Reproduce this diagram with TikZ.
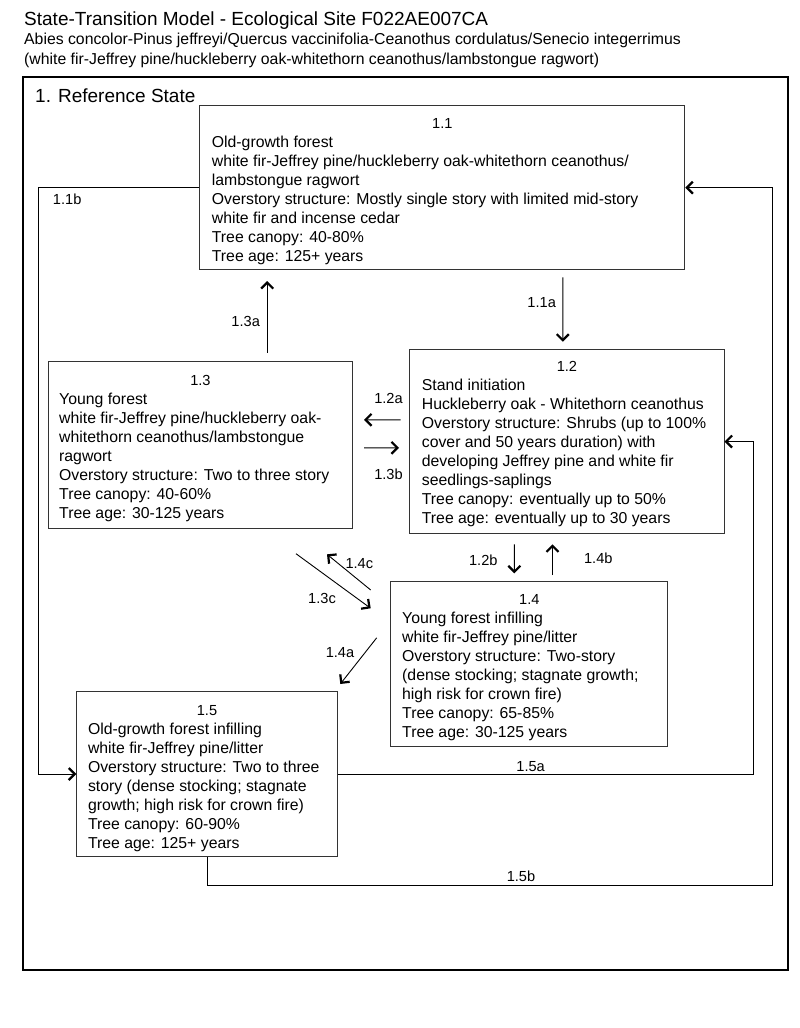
\documentclass[tikz,border=0pt]{standalone}
\usepackage{fontspec}
\setmainfont{Liberation Sans}
\usetikzlibrary{arrows.meta}

\begin{document}
\begin{tikzpicture}[x=1pt,y=-1pt,
    box/.style={draw=black!80,line width=1pt,anchor=north west,inner sep=0pt},
    num/.style={anchor=base,inner sep=0pt,font=\fontsize{14.6}{17}\selectfont},
    txt/.style={anchor=base west,inner sep=0pt,font=\fontsize{15.8}{19.1}\selectfont},
    lbl/.style={inner sep=0pt,font=\fontsize{14.6}{17}\selectfont},
    arr/.style={line width=0.9pt,-{Straight Barb[length=6pt,width=12pt,line width=2.2pt]}}]
    \useasboundingbox (0,0) rectangle (800,1028);
    \node[anchor=base west,inner sep=0pt,font=\fontsize{19}{22}\selectfont] (title) at (24,25) {State-Transition Model - Ecological Site F022AE007CA};
    \node[txt,font=\fontsize{15.8}{20}\selectfont] (sub) at (24,44.3) {\begin{tabular}[t]{@{}l@{}}Abies concolor-Pinus jeffreyi/Quercus vaccinifolia-Ceanothus cordulatus/Senecio integerrimus\\(white fir-Jeffrey pine/huckleberry oak-whitethorn ceanothus/lambstongue ragwort)\end{tabular}};
    \draw[line width=2.2pt] (23.3,76.7) rectangle (788,970);
    \node[anchor=base west,inner sep=0pt,font=\fontsize{19}{22}\selectfont] (state) at (35,102.3) {1. Reference State};

    \node[box,minimum width=485pt,minimum height=164.3pt] (b11) at (199.3,105) {};
    \node[box,minimum width=314.2pt,minimum height=184.7pt] (b12) at (409.3,348.7) {};
    \node[box,minimum width=304.8pt,minimum height=166.5pt] (b13) at (47.5,361) {};
    \node[box,minimum width=277pt,minimum height=165.3pt] (b14) at (390.3,580.7) {};
    \node[box,minimum width=260.4pt,minimum height=165pt] (b15) at (76.3,691) {};

    \node[num] (n11) at ([yshift=-23pt]b11.north) {1.1};
    \node[num] (n12) at ([yshift=-23pt]b12.north) {1.2};
    \node[num] (n13) at ([yshift=-24.5pt]b13.north) {1.3};
    \node[num] (n14) at ([yshift=-23.8pt]b14.north) {1.4};
    \node[num] (n15) at ([yshift=-24pt]b15.north) {1.5};

    \node[txt] (t11) at ([xshift=12.4pt,yshift=-42pt]b11.north west) {\begin{tabular}[t]{@{}l@{}}Old-growth forest\\white fir-Jeffrey pine/huckleberry oak-whitethorn ceanothus/\\lambstongue ragwort\\Overstory structure: Mostly single story with limited mid-story\\white fir and incense cedar\\Tree canopy: 40-80\%\\Tree age: 125+ years\end{tabular}};
    \node[txt] (t12) at ([xshift=12.4pt,yshift=-41.3pt]b12.north west) {\begin{tabular}[t]{@{}l@{}}Stand initiation\\Huckleberry oak - Whitethorn ceanothus\\Overstory structure: Shrubs (up to 100\%\\cover and 50 years duration) with\\developing Jeffrey pine and white fir\\seedlings-saplings\\Tree canopy: eventually up to 50\%\\Tree age: eventually up to 30 years\end{tabular}};
    \node[txt] (t13) at ([xshift=11.5pt,yshift=-43pt]b13.north west) {\begin{tabular}[t]{@{}l@{}}Young forest\\white fir-Jeffrey pine/huckleberry oak-\\whitethorn ceanothus/lambstongue\\ragwort\\Overstory structure: Two to three story\\Tree canopy: 40-60\%\\Tree age: 30-125 years\end{tabular}};
    \node[txt] (t14) at ([xshift=11.7pt,yshift=-42.3pt]b14.north west) {\begin{tabular}[t]{@{}l@{}}Young forest infilling\\white fir-Jeffrey pine/litter\\Overstory structure: Two-story\\(dense stocking; stagnate growth;\\high risk for crown fire)\\Tree canopy: 65-85\%\\Tree age: 30-125 years\end{tabular}};
    \node[txt] (t15) at ([xshift=11.5pt,yshift=-43pt]b15.north west) {\begin{tabular}[t]{@{}l@{}}Old-growth forest infilling\\white fir-Jeffrey pine/litter\\Overstory structure: Two to three\\story (dense stocking; stagnate\\growth; high risk for crown fire)\\Tree canopy: 60-90\%\\Tree age: 125+ years\end{tabular}};

    \draw[arr] ([xshift=120.5pt,yshift=-7pt]b11.south) -- ([xshift=-4.1pt,yshift=7pt]b12.north);
    \draw[arr] ([xshift=66.8pt,yshift=8.3pt]b13.north) -- ([xshift=-175.1pt,yshift=-10.7pt]b11.south);
    \draw[arr] ([xshift=-8.8pt,yshift=21.7pt]b12.west) -- ([xshift=10.7pt,yshift=24.9pt]b13.east);
    \draw[arr] ([xshift=10.7pt,yshift=-3.05pt]b13.east) -- ([xshift=-10.3pt,yshift=-6.25pt]b12.west);
    \draw[arr] ([xshift=-52.6pt,yshift=-9.9pt]b12.south) -- ([xshift=-15pt,yshift=7.4pt]b14.north);
    \draw[arr] ([xshift=23.2pt,yshift=5.7pt]b14.north) -- ([xshift=-14.4pt,yshift=-9.9pt]b12.south);
    \draw[arr] ([xshift=-57.3pt,yshift=-25.2pt]b13.south east) -- ([xshift=-19.6pt,yshift=-27.6pt]b14.north west);
    \draw[arr] ([xshift=-19.6pt,yshift=-9.3pt]b14.north west) -- ([xshift=-26.3pt,yshift=-25.8pt]b13.south east);
    \draw[arr] ([xshift=-13.6pt,yshift=26.05pt]b14.west) -- ([xshift=2.6pt,yshift=7pt]b15.north east);
    \draw[arr] (b11.west) -| ([xshift=-38pt]b15.west) -- (b15.west);
    \draw[arr] (b15.east) -| ([xshift=29pt]b12.east) -- (b12.east);
    \draw[arr] (b15.south) -- ([yshift=-28pt]b15.south) -| ([xshift=86.7pt]b11.east) -- (b11.east);

    \node[lbl] (l11a) at (541.7,302.7) {1.1a};
    \node[lbl] (l11b) at (67.2,199) {1.1b};
    \node[lbl] (l12a) at (388.5,398) {1.2a};
    \node[lbl] (l13b) at (388.5,474.5) {1.3b};
    \node[lbl] (l12b) at (483.3,560) {1.2b};
    \node[lbl] (l14b) at (598.3,558.3) {1.4b};
    \node[lbl] (l13a) at (245.7,321.7) {1.3a};
    \node[lbl] (l13c) at (322,598.3) {1.3c};
    \node[lbl] (l14c) at (359.3,563.3) {1.4c};
    \node[lbl] (l14a) at (340,652.3) {1.4a};
    \node[lbl] (l15a) at (530.6,766.7) {1.5a};
    \node[lbl] (l15b) at (521,876) {1.5b};
\end{tikzpicture}
\end{document}
